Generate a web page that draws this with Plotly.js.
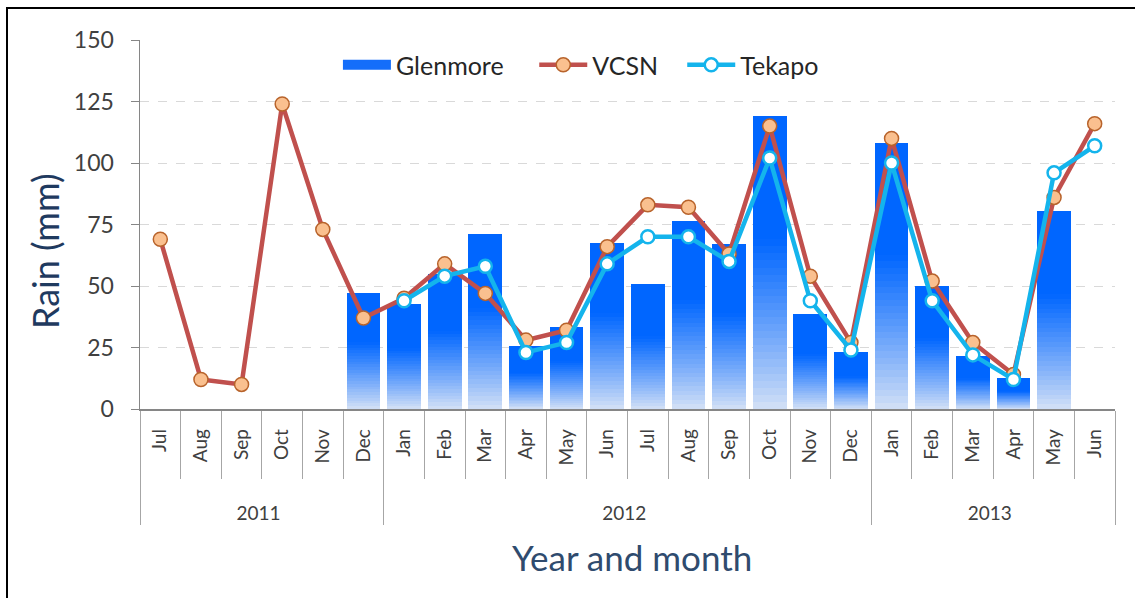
<!DOCTYPE html>
<html><head><meta charset="utf-8">
<script src="https://cdn.plot.ly/plotly-3.0.1.min.js"></script>
<style>
html,body{margin:0;padding:0;background:#fff;overflow:hidden}
#frame{position:absolute;left:6px;top:7px;width:1200px;height:700px;border:2px solid #000;box-sizing:border-box}
#chart{position:absolute;left:0;top:0;width:1135px;height:598px}
</style></head>
<body><div id="frame"></div><div id="chart"></div>
<script>
// ---- data ----
const yearLabels = ['2011','2011','2011','2011','2011','2011',
  '2012','2012','2012','2012','2012','2012','2012','2012','2012','2012','2012','2012',
  '2013','2013','2013','2013','2013','2013'];
const monthLabels = ['Jul','Aug','Sep','Oct','Nov','Dec',
  'Jan','Feb','Mar','Apr','May','Jun','Jul','Aug','Sep','Oct','Nov','Dec',
  'Jan','Feb','Mar','Apr','May','Jun'];
const seriesNames = ['Glenmore', 'VCSN', 'Tekapo'];
const glenmore = [null,null,null,null,null,47,
  42.5,55,71,25.5,33.5,67.5,51,76.5,67,119,38.5,23,
  108,50,21.5,12.5,80.5,null];
const vcsn = [69,12,10,124,73,37,
  45,59,47,28,32,66,83,82,63,115,54,27,
  110,52,27,14,86,116];
const tekapo = [null,null,null,null,null,null,
  44,54,58,23,27,59,70,70,60,102,44,24,
  100,44,22,12,96,107];

// ---- axis keys: multicategory needs each (year, month) inner label to be distinct
// across years so the months keep chronological order; zero-width marks keep the
// visible text identical, and leading no-break spaces push the year row down.
const PAD = '\u00A0'.repeat(6);
const innerKeys = monthLabels.map((m, i) => {
  let dup = 0;
  for (let j = 0; j < i; j++) if (monthLabels[j] === m && yearLabels[j] !== yearLabels[i]) dup++;
  return PAD + m + '\u200B'.repeat(dup);
});
const x = [yearLabels, innerKeys];
const nb = n => '\u00A0'.repeat(n);   // legend spacing

// ---- styling ----
const FONT = 'Lato, "Open Sans", sans-serif';
const blue = [0,102,255], light = [214,226,246];
const nSeg = 24, solidFrac = 0.42;
const traces = [];
const segs = [];
const fadeTop = 1 - solidFrac;
for (let s = 0; s < nSeg; s++) {
  const f0 = fadeTop * s / nSeg, f1 = fadeTop * (s + 1) / nSeg;
  const t = (f0 + f1) / 2 / fadeTop;
  const c = light.map((l, i) => Math.round(l + (blue[i] - l) * Math.pow(t, 0.9)));
  segs.push({f0, f1, color: `rgb(${c.join(',')})`});
}
segs.push({f0: fadeTop, f1: 1, color: `rgb(${blue.join(',')})`});
// legend-only entry for Glenmore (wide swatch); its single point is empty and sits
// on the first category so category order is unaffected
traces.push({
  type: 'scatter', mode: 'lines', x: [[yearLabels[0]], [innerKeys[0]]], y: [null],
  name: seriesNames[0] + nb(4), legendgroup: 'g',
  line: {color: 'rgb(20,110,250)', width: 15}, hoverinfo: 'skip'
});
segs.forEach((sg) => {
  traces.push({
    type: 'bar', x: x,
    y: glenmore.map(v => v == null ? null : v * (sg.f1 - sg.f0)),
    marker: {color: sg.color, line: {width: 0}},
    name: seriesNames[0], legendgroup: 'g', showlegend: false,
    hoverinfo: 'skip'
  });
});
traces.push({
  type: 'scatter', mode: 'lines+markers', x: x, y: vcsn, name: seriesNames[1] + nb(3),
  line: {color: '#C0504D', width: 4.5},
  marker: {symbol: 'circle', size: 14, color: '#FAC08F', line: {color: '#B8632B', width: 1.5}}
});
traces.push({
  type: 'scatter', mode: 'lines+markers', x: x, y: tekapo, name: seriesNames[2],
  line: {color: '#14B4EC', width: 4.5},
  marker: {symbol: 'circle', size: 13, color: '#FFFFFF', line: {color: '#14B4EC', width: 2.5}}
});

const layout = {
  width: 1135, height: 598,
  margin: {l: 140, r: 20, t: 40, b: 189},
  paper_bgcolor: 'rgba(0,0,0,0)', plot_bgcolor: 'rgba(0,0,0,0)',
  font: {family: FONT, color: '#404040'},
  barmode: 'stack', bargap: 0.17,
  showlegend: true,
  legend: {orientation: 'h', x: 0.203, xanchor: 'left', y: 0.932, yanchor: 'middle',
    bgcolor: 'rgba(0,0,0,0)', font: {size: 25, color: '#262626', family: FONT},
    itemwidth: 48, traceorder: 'normal'},
  yaxis: {
    range: [0, 150], dtick: 25, tick0: 0,
    showgrid: true, gridcolor: '#D9D9D9', griddash: 'dash', gridwidth: 1,
    showline: true, linecolor: '#868686', linewidth: 1.5,
    ticks: 'outside', ticklen: 8, tickcolor: '#868686',
    ticklabelstandoff: 12,
    tickfont: {size: 23, color: '#404040', family: FONT},
    zeroline: false
  },
  xaxis: {
    type: 'multicategory', range: [-0.5, monthLabels.length - 0.5],
    showline: true, linecolor: '#868686', linewidth: 1.5,
    ticks: 'outside', ticklen: 68, tickcolor: '#A6A6A6', tickwidth: 1,
    tickangle: -90, ticklabelstandoff: 11,
    tickfont: {size: 19, color: '#404040', family: FONT},
    showdividers: true, dividercolor: '#A6A6A6', dividerwidth: 1,
    showgrid: false
  },
  annotations: [
    {text: 'Rain (mm)', xref: 'paper', yref: 'paper', x: -0.0974, y: 0.428,
     xanchor: 'center', yanchor: 'middle', textangle: -90, showarrow: false,
     font: {size: 36, color: '#1F3A5F', family: FONT}},
    {text: 'Year and month', xref: 'paper', yref: 'paper', x: 0.5046, y: -0.401,
     xanchor: 'center', yanchor: 'middle', showarrow: false,
     font: {size: 35, color: '#2F4B6E', family: FONT}}
  ]
};
Plotly.newPlot('chart', traces, layout, {displayModeBar: false, staticPlot: true});
</script>
</body></html>
